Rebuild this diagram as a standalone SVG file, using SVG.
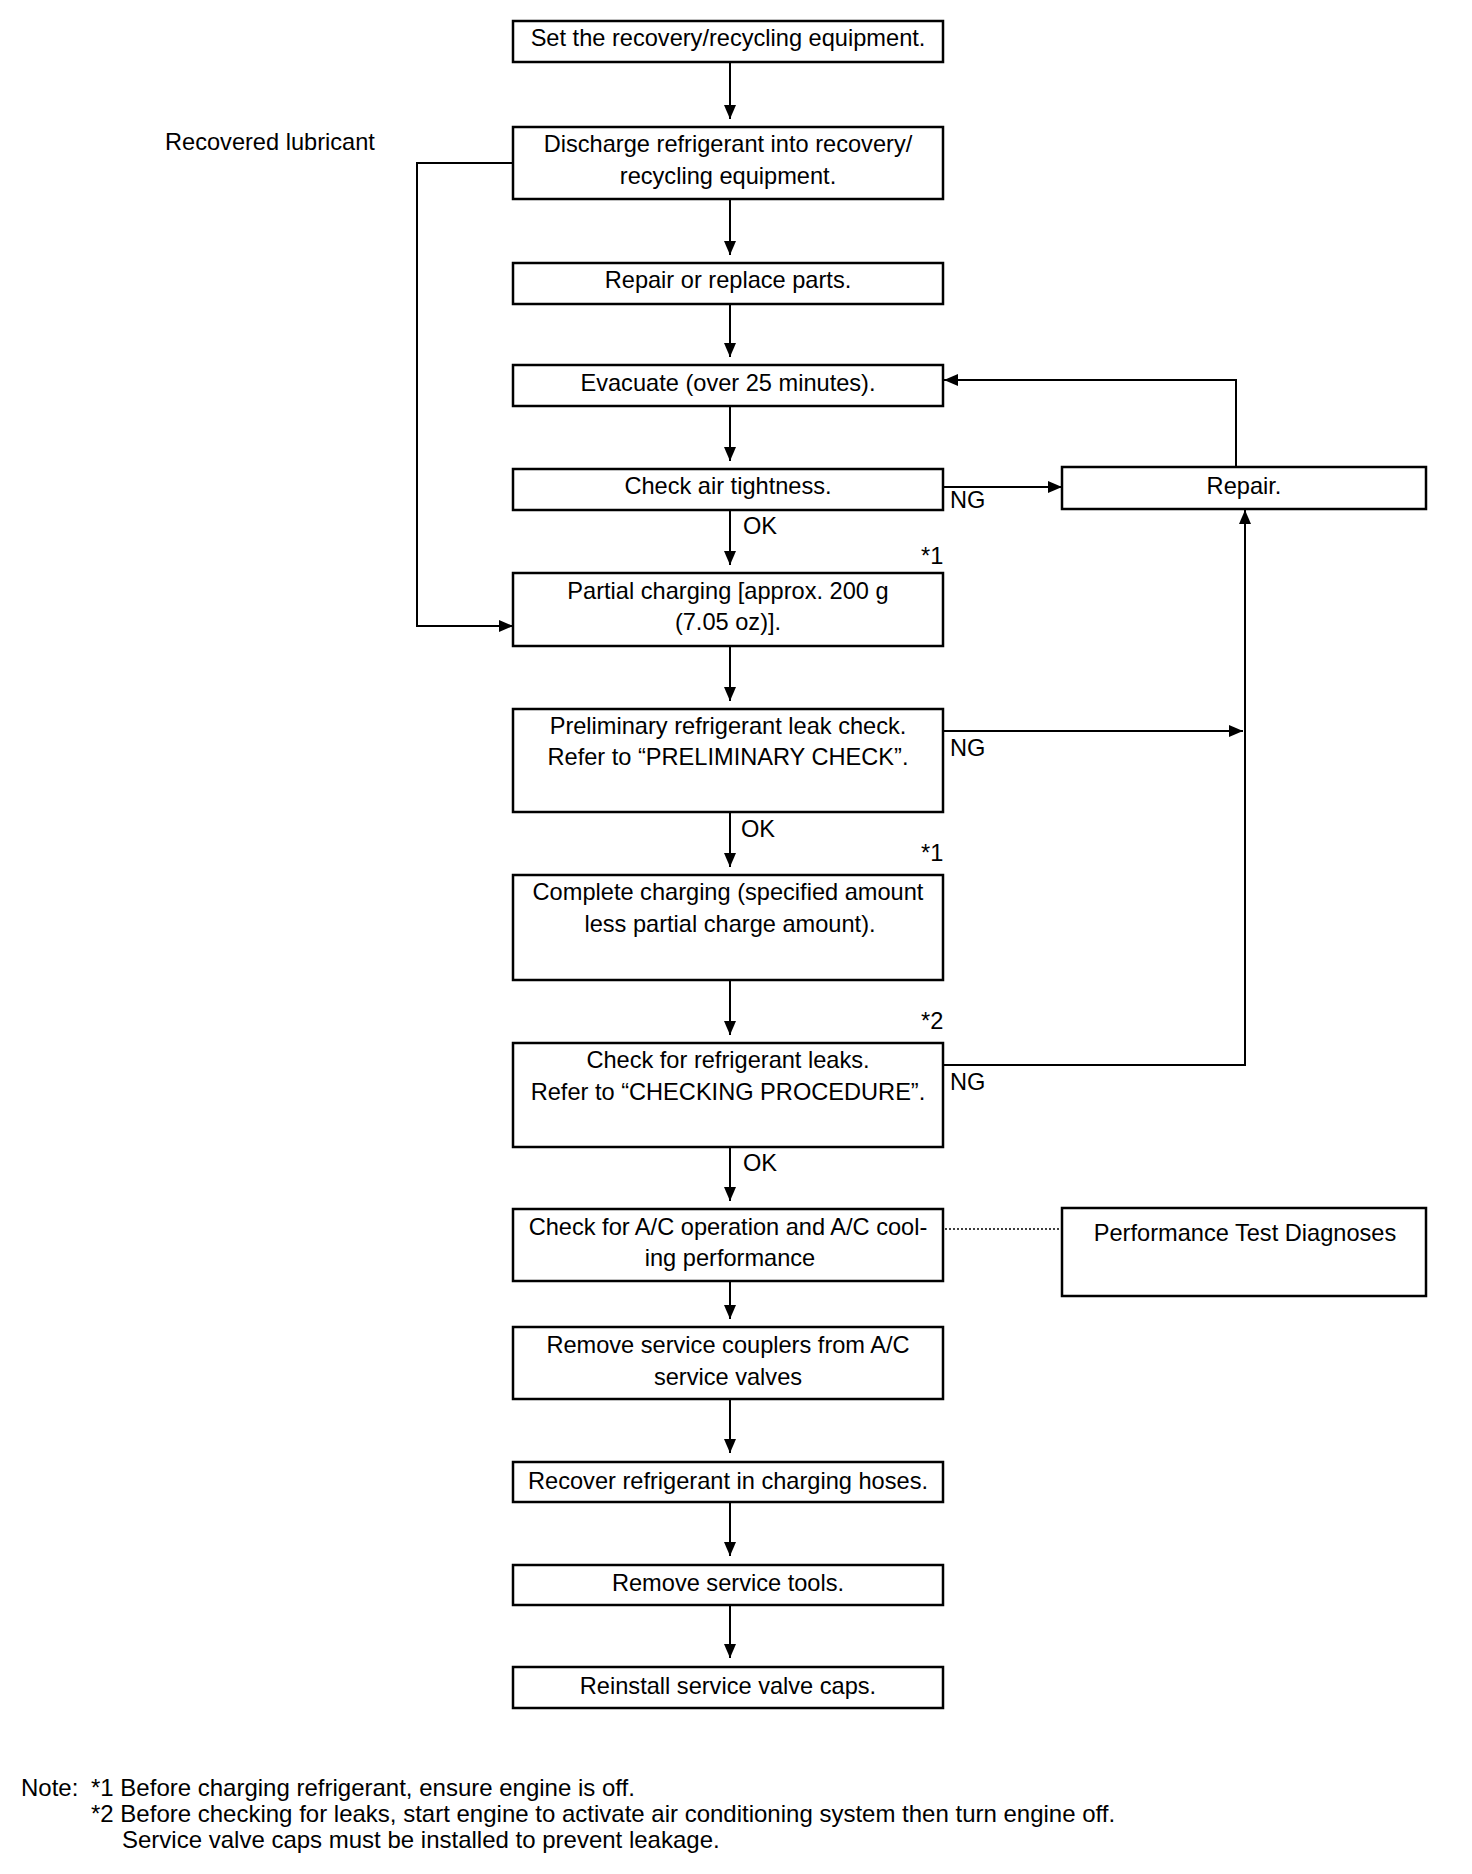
<svg xmlns="http://www.w3.org/2000/svg" width="1472" height="1874" viewBox="0 0 1472 1874">
<defs>
<style>
.box{fill:#fff;stroke:#000;stroke-width:2.5}
.t{font-family:"Liberation Sans",Arial,sans-serif;font-size:23.6px;fill:#000;text-anchor:middle}
.l{font-family:"Liberation Sans",Arial,sans-serif;font-size:23.6px;fill:#000}
.n{font-family:"Liberation Sans",Arial,sans-serif;font-size:24px;fill:#000}
.c{fill:none;stroke:#000;stroke-width:2}
.d{fill:none;stroke:#000;stroke-width:1.5;stroke-dasharray:2 2}
</style>
<marker id="ah" viewBox="0 0 14 12" refX="14" refY="6" markerWidth="14" markerHeight="12" markerUnits="userSpaceOnUse" orient="auto">
<path d="M0,0 L14,6 L0,12 Z" fill="#000"/>
</marker>
</defs>
<rect width="1472" height="1874" fill="#fff"/>

<g id="connectors">
<line class="c" x1="730" y1="62" x2="730" y2="119" marker-end="url(#ah)"/>
<line class="c" x1="730" y1="199" x2="730" y2="255" marker-end="url(#ah)"/>
<line class="c" x1="730" y1="304" x2="730" y2="357" marker-end="url(#ah)"/>
<line class="c" x1="730" y1="406" x2="730" y2="461" marker-end="url(#ah)"/>
<line class="c" x1="730" y1="510" x2="730" y2="565" marker-end="url(#ah)"/>
<line class="c" x1="730" y1="646" x2="730" y2="701" marker-end="url(#ah)"/>
<line class="c" x1="730" y1="812" x2="730" y2="867" marker-end="url(#ah)"/>
<line class="c" x1="730" y1="980" x2="730" y2="1035" marker-end="url(#ah)"/>
<line class="c" x1="730" y1="1147" x2="730" y2="1201" marker-end="url(#ah)"/>
<line class="c" x1="730" y1="1281" x2="730" y2="1319" marker-end="url(#ah)"/>
<line class="c" x1="730" y1="1399" x2="730" y2="1453" marker-end="url(#ah)"/>
<line class="c" x1="730" y1="1502" x2="730" y2="1556" marker-end="url(#ah)"/>
<line class="c" x1="730" y1="1604" x2="730" y2="1658" marker-end="url(#ah)"/>
<polyline class="c" points="513,163 417,163 417,626 513,626" marker-end="url(#ah)"/>
<line class="c" x1="943" y1="487" x2="1062" y2="487" marker-end="url(#ah)"/>
<polyline class="c" points="1236,467 1236,380 944,380" marker-end="url(#ah)"/>
<line class="c" x1="943" y1="731" x2="1243" y2="731" marker-end="url(#ah)"/>
<polyline class="c" points="943,1065 1245,1065 1245,510" marker-end="url(#ah)"/>
<line class="d" x1="945" y1="1229" x2="1062" y2="1229"/>
</g>

<g id="n1"><rect class="box" x="513" y="21" width="430" height="41"/><text class="t" x="728" y="46">Set the recovery/recycling equipment.</text></g>
<g id="n2"><rect class="box" x="513" y="127" width="430" height="72"/><text class="t" x="728" y="152">Discharge refrigerant into recovery/</text><text class="t" x="728" y="184">recycling equipment.</text></g>
<g id="lbl-lub"><text class="l" x="165" y="150">Recovered lubricant</text></g>
<g id="n3"><rect class="box" x="513" y="263" width="430" height="41"/><text class="t" x="728" y="288">Repair or replace parts.</text></g>
<g id="n4"><rect class="box" x="513" y="365" width="430" height="41"/><text class="t" x="728" y="391">Evacuate (over 25 minutes).</text></g>
<g id="n5"><rect class="box" x="513" y="469" width="430" height="41"/><text class="t" x="728" y="494">Check air tightness.</text></g>
<g id="n-repair"><rect class="box" x="1062" y="467" width="364" height="42"/><text class="t" x="1244" y="494">Repair.</text></g>
<g id="n6"><rect class="box" x="513" y="573" width="430" height="73"/><text class="t" x="728" y="599">Partial charging [approx. 200 g</text><text class="t" x="728" y="630">(7.05 oz)].</text></g>
<g id="n7"><rect class="box" x="513" y="709" width="430" height="103"/><text class="t" x="728" y="734">Preliminary refrigerant leak check.</text><text class="t" x="728" y="765">Refer to “PRELIMINARY CHECK”.</text></g>
<g id="n8"><rect class="box" x="513" y="875" width="430" height="105"/><text class="t" x="728" y="900">Complete charging (specified amount</text><text class="t" x="730" y="932">less partial charge amount).</text></g>
<g id="n9"><rect class="box" x="513" y="1043" width="430" height="104"/><text class="t" x="728" y="1068">Check for refrigerant leaks.</text><text class="t" x="728" y="1100">Refer to “CHECKING PROCEDURE”.</text></g>
<g id="n10"><rect class="box" x="513" y="1209" width="430" height="72"/><text class="t" x="728" y="1235">Check for A/C operation and A/C cool-</text><text class="t" x="730" y="1266">ing performance</text></g>
<g id="n-perf"><rect class="box" x="1062" y="1208" width="364" height="88"/><text class="t" x="1245" y="1241">Performance Test Diagnoses</text></g>
<g id="n11"><rect class="box" x="513" y="1327" width="430" height="72"/><text class="t" x="728" y="1353">Remove service couplers from A/C</text><text class="t" x="728" y="1385">service valves</text></g>
<g id="n12"><rect class="box" x="513" y="1462" width="430" height="40"/><text class="t" x="728" y="1489">Recover refrigerant in charging hoses.</text></g>
<g id="n13"><rect class="box" x="513" y="1565" width="430" height="40"/><text class="t" x="728" y="1591">Remove service tools.</text></g>
<g id="n14"><rect class="box" x="513" y="1667" width="430" height="41"/><text class="t" x="728" y="1694">Reinstall service valve caps.</text></g>

<g id="labels">
<text class="l" x="950" y="508">NG</text>
<text class="l" x="743" y="534">OK</text>
<text class="l" x="921" y="564">*1</text>
<text class="l" x="950" y="756">NG</text>
<text class="l" x="741" y="837">OK</text>
<text class="l" x="921" y="861">*1</text>
<text class="l" x="921" y="1029">*2</text>
<text class="l" x="950" y="1090">NG</text>
<text class="l" x="743" y="1171">OK</text>
</g>

<g id="notes">
<text class="n" x="21" y="1796">Note:</text>
<text class="n" x="91" y="1796">*1 Before charging refrigerant, ensure engine is off.</text>
<text class="n" x="91" y="1822">*2 Before checking for leaks, start engine to activate air conditioning system then turn engine off.</text>
<text class="n" x="122" y="1848">Service valve caps must be installed to prevent leakage.</text>
</g>
</svg>
